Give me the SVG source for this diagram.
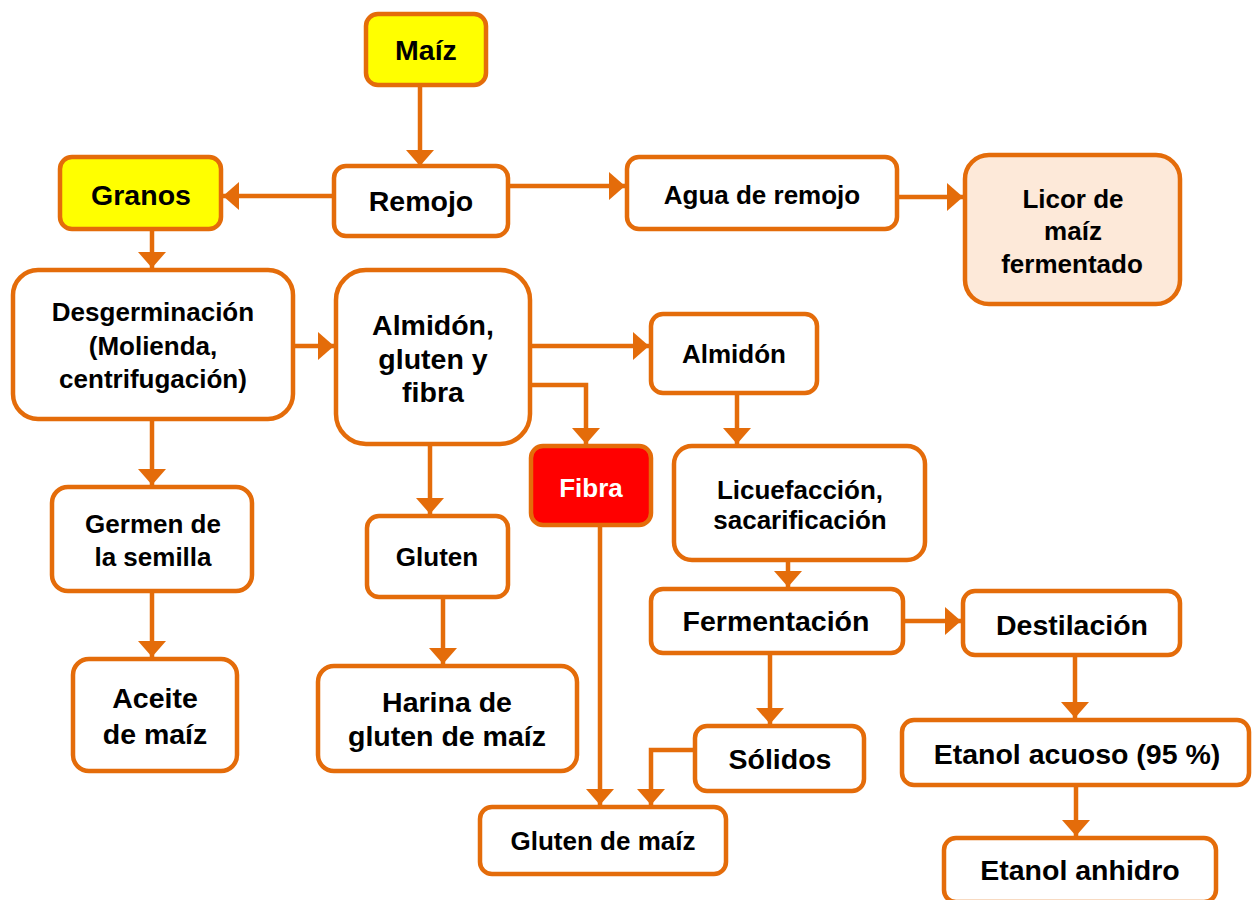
<svg xmlns="http://www.w3.org/2000/svg" width="1252" height="900" viewBox="0 0 1252 900">
<style>
.b{fill:#fff;stroke:#E46C0A;stroke-width:4.5}
.y{fill:#FFFF00}
.r{fill:#FF0000}
.p{fill:#FDE9D9}
text{font-family:"Liberation Sans",Arial,sans-serif;font-weight:bold;fill:#000;text-anchor:middle}
.s{font-size:26px}
.l{font-size:28.5px}
.w{fill:#fff}
.c{fill:none;stroke:#E46C0A;stroke-width:4.5}
</style>
<defs>
<marker id="a" viewBox="0 0 16 28" refX="16" refY="14" markerWidth="16" markerHeight="28" markerUnits="userSpaceOnUse" orient="auto">
<path d="M0,0 L16,14 L0,28 Z" fill="#E46C0A"/>
</marker>
</defs>
<g id="connectors">
<path class="c" d="M420,85 V166" marker-end="url(#a)"/>
<path class="c" d="M334,196 H223" marker-end="url(#a)"/>
<path class="c" d="M508,186 H625" marker-end="url(#a)"/>
<path class="c" d="M897,197 H963" marker-end="url(#a)"/>
<path class="c" d="M152,229 V268" marker-end="url(#a)"/>
<path class="c" d="M293,346 H334" marker-end="url(#a)"/>
<path class="c" d="M530,346 H649" marker-end="url(#a)"/>
<path class="c" d="M530,385 H586 V444" marker-end="url(#a)"/>
<path class="c" d="M737,393 V444" marker-end="url(#a)"/>
<path class="c" d="M788,560 V587" marker-end="url(#a)"/>
<path class="c" d="M903,621 H961" marker-end="url(#a)"/>
<path class="c" d="M770,653 V724" marker-end="url(#a)"/>
<path class="c" d="M695,750 H651 V805" marker-end="url(#a)"/>
<path class="c" d="M600,525 V805" marker-end="url(#a)"/>
<path class="c" d="M152,419 V485" marker-end="url(#a)"/>
<path class="c" d="M152,591 V657" marker-end="url(#a)"/>
<path class="c" d="M430,444 V514" marker-end="url(#a)"/>
<path class="c" d="M443,597 V664" marker-end="url(#a)"/>
<path class="c" d="M1075,655 V718" marker-end="url(#a)"/>
<path class="c" d="M1076,785 V836" marker-end="url(#a)"/>
</g>
<g id="maiz"><rect class="b y" x="366" y="14" width="120" height="71" rx="12"/><text class="l" x="426" y="60">Maíz</text></g>
<g id="remojo"><rect class="b" x="334" y="166" width="174" height="70" rx="12"/><text class="l" x="421" y="211">Remojo</text></g>
<g id="granos"><rect class="b y" x="60" y="157" width="161" height="72" rx="12"/><text class="l" x="141" y="205">Granos</text></g>
<g id="agua"><rect class="b" x="627" y="157" width="270" height="72" rx="12"/><text class="s" x="762" y="204">Agua de remojo</text></g>
<g id="licor"><rect class="b p" x="965" y="155" width="215" height="149" rx="24"/><text class="s" x="1073" y="208">Licor de</text><text class="s" x="1073" y="240">maíz</text><text class="s" x="1072" y="273">fermentado</text></g>
<g id="desgerminacion"><rect class="b" x="13" y="270" width="280" height="149" rx="25"/><text class="s" x="153" y="321">Desgerminación</text><text class="s" x="153" y="355">(Molienda,</text><text class="s" x="153" y="388">centrifugación)</text></g>
<g id="almidon-gluten-fibra"><rect class="b" x="336" y="270" width="194" height="174" rx="30"/><text class="l" x="433" y="335">Almidón,</text><text class="l" x="433" y="369">gluten y</text><text class="l" x="433" y="402">fibra</text></g>
<g id="almidon"><rect class="b" x="651" y="314" width="166" height="79" rx="12"/><text class="s" x="734" y="363">Almidón</text></g>
<g id="fibra"><rect class="b r" x="531" y="446" width="120" height="79" rx="12"/><text class="s w" x="591" y="497">Fibra</text></g>
<g id="licuefaccion"><rect class="b" x="674" y="446" width="251" height="114" rx="18"/><text class="s" x="800" y="499">Licuefacción,</text><text class="s" x="800" y="529">sacarificación</text></g>
<g id="germen"><rect class="b" x="52" y="487" width="200" height="104" rx="16"/><text class="s" x="153" y="533">Germen de</text><text class="s" x="153" y="566">la semilla</text></g>
<g id="gluten"><rect class="b" x="367" y="516" width="141" height="81" rx="12"/><text class="s" x="437" y="566">Gluten</text></g>
<g id="fermentacion"><rect class="b" x="651" y="589" width="252" height="64" rx="12"/><text class="l" x="776" y="631">Fermentación</text></g>
<g id="destilacion"><rect class="b" x="963" y="591" width="217" height="64" rx="12"/><text class="l" x="1072" y="635">Destilación</text></g>
<g id="aceite"><rect class="b" x="73" y="659" width="164" height="112" rx="16"/><text class="l" x="155" y="708">Aceite</text><text class="l" x="155" y="744">de maíz</text></g>
<g id="harina"><rect class="b" x="318" y="666" width="259" height="105" rx="16"/><text class="l" x="447" y="712">Harina de</text><text class="l" x="447" y="746">gluten de maíz</text></g>
<g id="solidos"><rect class="b" x="695" y="726" width="169" height="65" rx="12"/><text class="l" x="780" y="769">Sólidos</text></g>
<g id="etanol-acuoso"><rect class="b" x="902" y="720" width="347" height="65" rx="12"/><text class="l" x="1077" y="764">Etanol acuoso (95 %)</text></g>
<g id="gluten-maiz"><rect class="b" x="480" y="807" width="246" height="67" rx="12"/><text class="s" x="603" y="850">Gluten de maíz</text></g>
<g id="etanol-anhidro"><rect class="b" x="944" y="838" width="272" height="64" rx="12"/><text class="l" x="1080" y="880">Etanol anhidro</text></g>
</svg>
